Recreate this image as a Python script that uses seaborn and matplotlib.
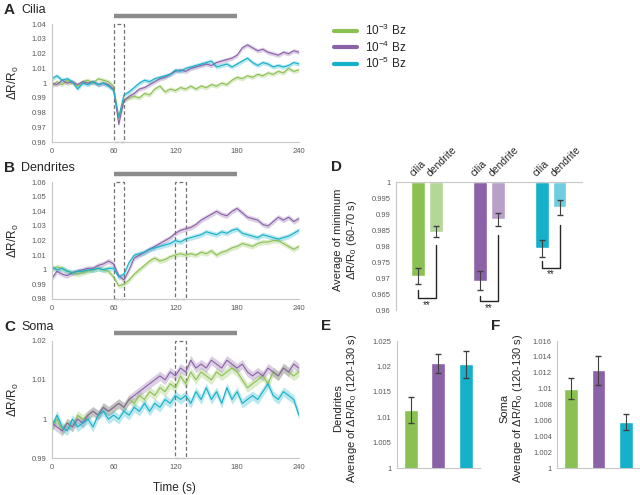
import numpy as np
import pandas as pd
import matplotlib
matplotlib.use('Agg')
import matplotlib.pyplot as plt
import seaborn as sns
from matplotlib.patches import Rectangle
from matplotlib.lines import Line2D
from matplotlib.ticker import FuncFormatter, MultipleLocator

# ---- data ----
time = list(range(0, 241, 5))
conc_labels = ['10$^{-3}$ Bz', '10$^{-4}$ Bz', '10$^{-5}$ Bz']

cilia_green = [0.998, 1.001, 0.999, 1.002, 1.000, 0.998, 1.001, 1.002, 1.000, 1.003, 1.002, 1.001, 0.998,
               0.976, 0.989, 0.990, 0.991, 0.990, 0.993, 0.992, 0.996, 0.998, 0.994, 0.996, 0.995, 0.997,
               0.996, 0.998, 0.996, 0.998, 0.997, 0.999, 0.998, 1.000, 0.999, 1.002, 1.004, 1.003, 1.005,
               1.004, 1.006, 1.005, 1.007, 1.006, 1.008, 1.007, 1.010, 1.008, 1.009]
cilia_purple = [1.000, 0.999, 1.002, 1.000, 1.001, 0.999, 1.001, 1.000, 1.001, 0.999, 1.000, 0.999, 0.996,
                0.972, 0.988, 0.991, 0.993, 0.996, 0.997, 0.999, 1.001, 1.003, 1.004, 1.006, 1.008, 1.009,
                1.008, 1.010, 1.011, 1.012, 1.013, 1.012, 1.014, 1.015, 1.016, 1.017, 1.019, 1.024, 1.026,
                1.024, 1.022, 1.023, 1.021, 1.020, 1.019, 1.021, 1.020, 1.022, 1.021]
cilia_cyan = [1.003, 1.005, 1.002, 1.003, 1.001, 0.996, 1.000, 0.999, 1.001, 0.999, 1.000, 0.998, 0.995,
              0.977, 0.992, 0.994, 0.997, 1.000, 1.002, 1.001, 1.003, 1.004, 1.005, 1.006, 1.009, 1.008,
              1.010, 1.011, 1.012, 1.013, 1.014, 1.015, 1.011, 1.012, 1.013, 1.011, 1.013, 1.015, 1.017,
              1.014, 1.012, 1.014, 1.013, 1.011, 1.012, 1.011, 1.012, 1.014, 1.013]

dend_green = [1.000, 1.002, 1.001, 0.999, 0.998, 0.997, 0.998, 0.999, 1.000, 1.001, 1.000, 0.999, 0.995,
              0.989, 0.990, 0.993, 0.997, 1.000, 1.003, 1.006, 1.008, 1.006, 1.007, 1.009, 1.010, 1.011,
              1.010, 1.011, 1.010, 1.012, 1.011, 1.013, 1.010, 1.012, 1.013, 1.015, 1.016, 1.018, 1.017,
              1.016, 1.018, 1.019, 1.019, 1.020, 1.020, 1.018, 1.016, 1.014, 1.016]
dend_purple = [0.994, 0.999, 0.997, 0.996, 0.998, 0.999, 1.000, 1.001, 1.001, 1.003, 1.004, 1.006, 1.004,
               0.996, 0.993, 1.000, 1.008, 1.010, 1.012, 1.014, 1.016, 1.018, 1.020, 1.022, 1.025, 1.027,
               1.028, 1.029, 1.031, 1.034, 1.036, 1.038, 1.040, 1.038, 1.037, 1.040, 1.042, 1.039, 1.036,
               1.035, 1.034, 1.031, 1.030, 1.033, 1.036, 1.034, 1.036, 1.033, 1.035]
dend_cyan = [1.002, 1.000, 1.001, 0.999, 0.998, 0.999, 0.999, 1.000, 1.000, 1.001, 1.000, 1.001, 1.001,
             0.995, 0.997, 1.005, 1.010, 1.011, 1.012, 1.014, 1.015, 1.016, 1.017, 1.018, 1.020, 1.019,
             1.021, 1.022, 1.023, 1.024, 1.026, 1.025, 1.024, 1.026, 1.025, 1.027, 1.028, 1.025, 1.024,
             1.023, 1.022, 1.024, 1.023, 1.022, 1.021, 1.022, 1.023, 1.025, 1.027]

soma_green = [0.998, 1.000, 0.997, 0.999, 0.998, 1.001, 1.000, 1.001, 1.002, 1.001, 1.003, 1.002, 1.003,
              1.004, 1.003, 1.005, 1.004, 1.006, 1.005, 1.007, 1.006, 1.008, 1.007, 1.009, 1.008, 1.011,
              1.009, 1.012, 1.010, 1.012, 1.011, 1.010, 1.012, 1.011, 1.012, 1.013, 1.012, 1.010, 1.008,
              1.009, 1.010, 1.011, 1.009, 1.012, 1.011, 1.013, 1.012, 1.011, 1.012]
soma_purple = [0.999, 0.998, 0.997, 0.999, 0.998, 1.000, 0.999, 1.001, 1.002, 1.001, 1.003, 1.002, 1.003,
               1.004, 1.003, 1.005, 1.006, 1.007, 1.008, 1.009, 1.010, 1.011, 1.010, 1.012, 1.011, 1.013,
               1.012, 1.015, 1.013, 1.014, 1.013, 1.015, 1.014, 1.013, 1.015, 1.014, 1.013, 1.014, 1.012,
               1.011, 1.012, 1.011, 1.013, 1.012, 1.011, 1.013, 1.012, 1.014, 1.013]
soma_cyan = [0.998, 1.001, 0.998, 0.997, 1.000, 0.998, 0.999, 1.000, 0.998, 1.001, 1.002, 1.000, 1.001,
             1.000, 1.002, 1.001, 1.003, 1.002, 1.004, 1.002, 1.004, 1.003, 1.005, 1.004, 1.006, 1.005,
             1.006, 1.004, 1.007, 1.005, 1.008, 1.005, 1.007, 1.004, 1.008, 1.005, 1.007, 1.004, 1.005,
             1.006, 1.005, 1.007, 1.009, 1.006, 1.005, 1.007, 1.006, 1.005, 1.001]

trace_sem = {'cilia': 0.0015, 'dendrites': 0.0018, 'soma': 0.0012}

# panel D: minimum in 60-70 s window
d_cilia = [0.9707, 0.9692, 0.9794]
d_cilia_err = [0.0026, 0.0030, 0.0026]
d_dendrite = [0.9846, 0.9884, 0.9922]
d_dendrite_err = [0.0018, 0.0021, 0.0023]

# panels E, F: average in 120-130 s window
e_dendrites = [1.0114, 1.0206, 1.0204]
e_dendrites_err = [0.0026, 0.0019, 0.0026]
f_soma = [1.0100, 1.0123, 1.0058]
f_soma_err = [0.0013, 0.0018, 0.0010]

colors = ['#8bc152', '#8b62a8', '#15b0c9']
light_colors = ['#b3d794', '#b8a0cb', '#6fcde0']
tick_gray = '#595959'
spine_gray = '#c8c8c8'

sns.set_style('white')
plt.rcParams['font.family'] = ['Liberation Sans', 'DejaVu Sans']
plt.rcParams['mathtext.default'] = 'regular'

fig = plt.figure(figsize=(6.4, 4.95), dpi=100)


def fmt(v, pos):
    return f"{round(v, 4):g}"


def style_axes(ax, bottom=True):
    for s in ['top', 'right']:
        ax.spines[s].set_visible(False)
    ax.spines['left'].set_color(spine_gray)
    ax.spines['bottom'].set_color(spine_gray)
    ax.spines['bottom'].set_visible(bottom)
    ax.tick_params(axis='both', labelsize=5.5, colors=spine_gray, labelcolor=tick_gray,
                   length=2, width=0.6, pad=2)
    ax.yaxis.set_major_formatter(FuncFormatter(fmt))


def trace_panel(rect, series, ylim, ystep, sem, boxes, letter, title, letter_px):
    ax = fig.add_axes(rect)
    rows = []
    for lab, vals in zip(conc_labels, series):
        rows += [{'time': t, 'value': v, 'conc': lab} for t, v in zip(time, vals)]
    df = pd.DataFrame(rows)
    for lab, col in zip(conc_labels, colors):
        sub = df[df.conc == lab]
        ax.fill_between(sub.time, sub.value - sem, sub.value + sem, color=col, alpha=0.3, lw=0)
    sns.lineplot(data=df, x='time', y='value', hue='conc', palette=colors, legend=False,
                 lw=0.8, ax=ax)
    ax.set_xlim(0, 240)
    ax.set_ylim(*ylim)
    ax.set_xticks([0, 60, 120, 180, 240])
    ax.yaxis.set_major_locator(MultipleLocator(ystep))
    ax.set_xlabel('')
    ax.set_ylabel('')
    style_axes(ax)
    for x0 in boxes:
        ax.add_patch(Rectangle((x0, ylim[0]), 10, ylim[1] - ylim[0], fill=False,
                               ec='#707070', ls=(0, (3, 2)), lw=0.9, clip_on=False))
    ax.plot([60, 180], [1.067, 1.067], color='#8c8c8c', lw=3.2, solid_capstyle='butt',
            transform=ax.get_xaxis_transform(), clip_on=False)
    lx, ly = letter_px
    fig.text(lx / 640, 1 - ly / 495, letter, fontsize=11, fontweight='bold', va='center')
    fig.text((lx + 17) / 640, 1 - ly / 495, title, fontsize=9, va='center')
    cy = rect[1] + rect[3] / 2
    fig.text(13.5 / 640, cy, 'ΔR/R$_0$', rotation=90, fontsize=8.5, ha='center', va='center')
    return ax


trace_panel([0.081, 0.713, 0.386, 0.238], [cilia_green, cilia_purple, cilia_cyan],
            (0.96, 1.04), 0.01, trace_sem['cilia'], [60], 'A', 'Cilia', (4, 10))
trace_panel([0.081, 0.396, 0.386, 0.236], [dend_green, dend_purple, dend_cyan],
            (0.98, 1.06), 0.01, trace_sem['dendrites'], [60, 120], 'B', 'Dendrites', (4, 168))
trace_panel([0.081, 0.074, 0.386, 0.238], [soma_green, soma_purple, soma_cyan],
            (0.99, 1.02), 0.01, trace_sem['soma'], [120], 'C', 'Soma', (4, 327))
fig.text(0.273, 0.014, 'Time (s)', fontsize=8.5, ha='center', va='center')

# legend
handles = [Line2D([], [], color=c, lw=3) for c in colors]
fig.legend(handles, conc_labels, loc='upper left', bbox_to_anchor=(0.505, 0.975), frameon=False,
           fontsize=8.5, handlelength=2.0, handletextpad=0.6, labelspacing=0.1)

# panel D
axd = fig.add_axes([0.619, 0.373, 0.290, 0.259])
xg = np.arange(3)
off, w = 0.144, 0.218
axd.bar(xg - off, np.array(d_cilia) - 1, bottom=1, width=w, color=colors)
axd.bar(xg + off, np.array(d_dendrite) - 1, bottom=1, width=w, color=light_colors)
axd.errorbar(xg - off, d_cilia, yerr=d_cilia_err, fmt='none', ecolor='#404040', elinewidth=0.8, capsize=2.5)
axd.errorbar(xg + off, d_dendrite, yerr=d_dendrite_err, fmt='none', ecolor='#404040', elinewidth=0.8, capsize=2.5)
axd.set_xlim(-0.5, 2.5)
axd.set_ylim(0.96, 1.0)
axd.yaxis.set_major_locator(MultipleLocator(0.005))
style_axes(axd, bottom=False)
axd.spines['top'].set_visible(True)
axd.spines['top'].set_color(spine_gray)
axd.set_xticks([])
brackets = [(0.9663, 0.9639, 0.9804, 0.9618), (0.9646, 0.9629, 0.9835, 0.9608), (0.9755, 0.9733, 0.9867, 0.9713)]
for g, (ytop, ybot, yright, ystar) in zip(xg, brackets):
    axd.plot([g - off, g - off, g + off, g + off], [ytop, ybot, ybot, yright], color='#262626', lw=1,
             clip_on=False)
    axd.text(g, ystar, '**', ha='center', va='center', fontsize=7, clip_on=False)
    for xx, lab in [(g - off, 'cilia'), (g + off, 'dendrite')]:
        axd.annotate(lab, (xx - 0.06, 1.0), xytext=(0, 3), textcoords='offset points', rotation=45,
                     rotation_mode='anchor', ha='left', va='bottom', fontsize=7.5, annotation_clip=False)
fig.text(331 / 640, 1 - 167 / 495, 'D', fontsize=11, fontweight='bold', va='center')
fig.text(346 / 640, 1 - 240 / 495, 'Average of minimum\nΔR/R$_0$ (60-70 s)', rotation=90,
         fontsize=8, ha='center', va='center', multialignment='center')


# panels E and F
def bar_panel(rect, vals, errs, ylim, ystep, letter, letter_px, label, label_px):
    ax = fig.add_axes(rect)
    cats = ['g', 'p', 'c']
    sns.barplot(x=cats, y=vals, hue=cats, palette=colors, width=0.5, errorbar=None, legend=False,
                saturation=1, ax=ax)
    ax.errorbar(range(3), vals, yerr=errs, fmt='none', ecolor='#404040', elinewidth=0.8, capsize=2.5)
    ax.set_xlim(-0.5, 2.5)
    ax.set_ylim(*ylim)
    ax.yaxis.set_major_locator(MultipleLocator(ystep))
    style_axes(ax)
    ax.set_xticks([])
    fig.text(letter_px[0] / 640, 1 - letter_px[1] / 495, letter, fontsize=11, fontweight='bold', va='center')
    fig.text(label_px[0] / 640, 1 - label_px[1] / 495, label, rotation=90, fontsize=8,
             ha='center', va='center', multialignment='center')
    return ax


bar_panel([0.620, 0.054, 0.130, 0.257], e_dendrites, e_dendrites_err, (1.0, 1.025), 0.005,
          'E', (321, 326), 'Dendrites\nAverage of ΔR/R$_0$ (120-130 s)', (346, 408))
bar_panel([0.871, 0.054, 0.128, 0.257], f_soma, f_soma_err, (1.0, 1.016), 0.002,
          'F', (491, 326), 'Soma\nAverage of ΔR/R$_0$ (120-130 s)', (512, 408))

fig.savefig('out.png', dpi=100)
